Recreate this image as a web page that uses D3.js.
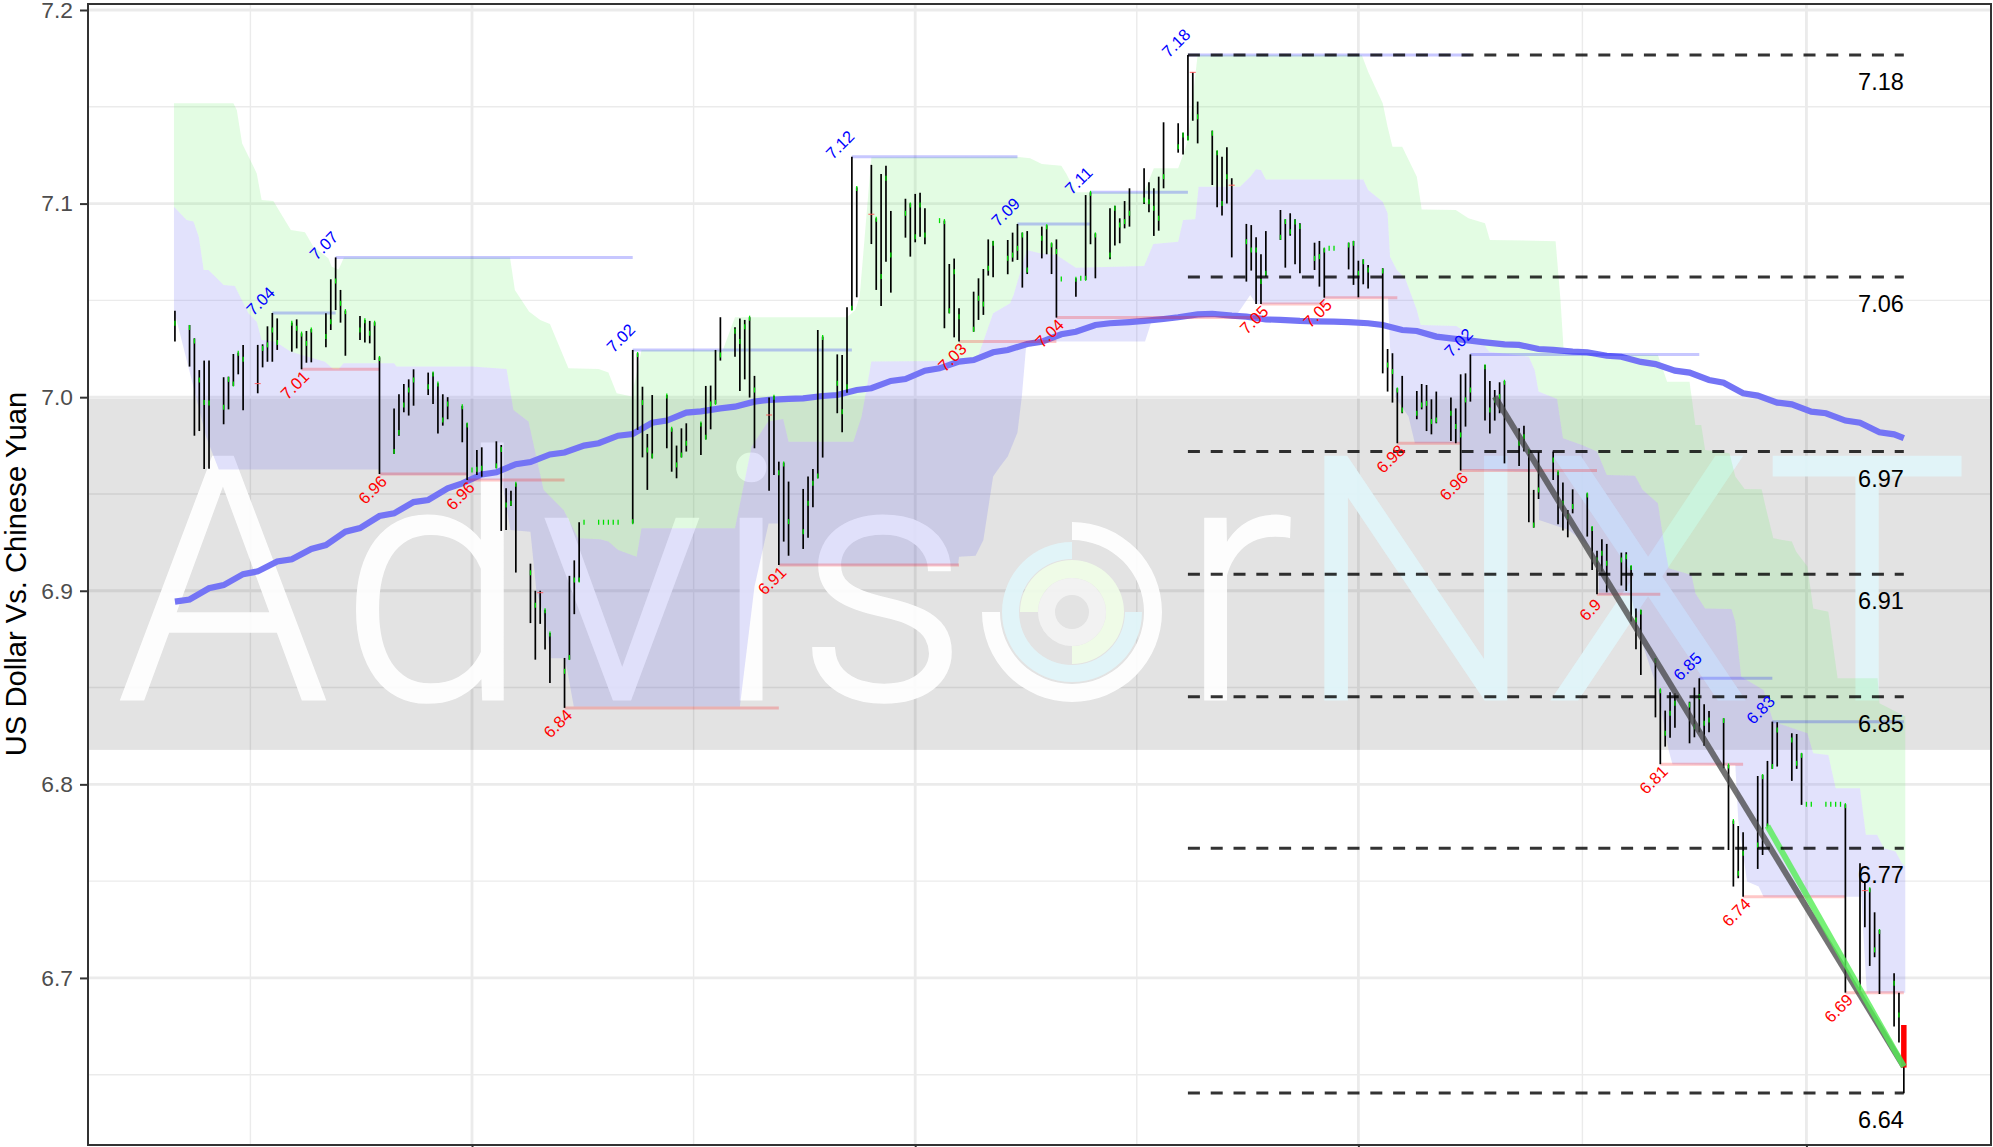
<!DOCTYPE html>
<html>
<head>
<meta charset="utf-8">
<title>US Dollar Vs. Chinese Yuan</title>
<script src="https://d3js.org/d3.v7.min.js"></script>
<style>
  html, body { margin: 0; padding: 0; background: #fff; overflow: hidden; }
  svg { display: block; font-family: "Liberation Sans", Arial, sans-serif; }
</style>
</head>
<body>
<div class="chart"></div>
<script>
//all x values are day numbers, 0 = 1 Jan 2020
var firstBarDay = -61;

//one line per trading week, first entry is the lone Friday 1 Nov 2019
var barHigh = [7.0447,
  7.0373, 7.0304, 7.014, 7.0189, 7.019,
  7.0103, 7.0106, 7.0223, 7.023, 7.027,
  7.027, 7.0273, 7.0366, 7.0435, 7.0407,
  7.0385, 7.0402, 7.033, 7.0342, 7.0352,
  7.0433, 7.0609, 7.0722, 7.0554, 7.0447,
  7.0419, 7.0399, 7.0394, 7.0387, 7.0206,
  6.9941, 7.0015, 7.0068, 7.0092, 7.0144,
  7.0127, 7.0127, 7.0072, 7.0015, 7.0,
  6.9955, 6.9865, 6.9624, 6.9727, 6.9741,
  6.9772, 6.9753, 6.9529, 6.9517, 6.9555,
  6.914, 6.9, 6.9, 6.8902, 6.8782,
  6.8653, 6.9077, 6.9157, 6.9354, 6.9354,
  6.9354, 6.9354, 6.9354, 6.9354, 6.9354,
  7.0244, 7.0227, 7.0054, 6.981, 7.0011,
  7.0011, 6.9839, 6.975, 6.9839, 6.9865,
  6.9868, 7.0058, 7.006, 7.0244, 7.0413,
  7.0361, 7.0407, 7.0399, 7.0413, 7.011,
  6.9998, 7.0006, 6.9667, 6.9662, 6.9564,
  6.9526, 6.959, 6.9629, 7.0347, 7.0313,
  7.0221, 7.0218, 7.0464, 7.1242, 7.1084,
  7.12, 7.0924, 7.1153, 7.1196, 7.0962,
  7.1025, 7.1001, 7.105, 7.1056, 7.0976,
  7.0912, 7.0912, 7.0688, 7.0716, 7.0459,
  7.0545, 7.0614, 7.0662, 7.0815, 7.0807,
  7.0812, 7.085, 7.0895, 7.085, 7.0858,
  7.0881, 7.0888, 7.0795, 7.0815, 7.0611,
  7.0614, 7.0614, 7.1044, 7.1058, 7.0846,
  7.0976, 7.0989, 7.0924, 7.1013, 7.1079,
  7.1182, 7.111, 7.1079, 7.1139, 7.142,
  7.1415, 7.1366, 7.1768, 7.1678, 7.1527,
  7.1377, 7.1273, 7.1242, 7.1291, 7.1131,
  7.0895, 7.0889, 7.0826, 7.0738, 7.0858,
  7.0967, 7.0919, 7.095, 7.0919, 7.0898,
  7.0798, 7.0807, 7.0769, 7.0769, 7.0769,
  7.0798, 7.0807, 7.0705, 7.0712, 7.0683,
  7.0666, 7.0249, 7.0227, 7.0046, 7.011,
  7.0032, 7.0068, 7.0063, 6.9989, 7.0029,
  6.9998, 6.9942, 7.0118, 7.0123, 7.0221,
  7.0166, 7.0084, 7.0037, 7.0077, 7.0084,
  6.9839, 6.9853, 6.9727, 6.9521, 6.9719,
  6.9719, 6.9615, 6.9559, 6.9417, 6.9524,
  6.9503, 6.9331, 6.9207, 6.9266, 6.9242,
  6.9197, 6.9199, 6.9128, 6.8909, 6.8901,
  6.8651, 6.8491, 6.8381, 6.8476, 6.847,
  6.8427, 6.85, 6.8548, 6.8414, 6.8379,
  6.8341, 6.81, 6.7813, 6.7785, 6.7752,
  6.8043, 6.8049, 6.8121, 6.8324, 6.8321,
  6.8264, 6.826, 6.816, 6.7897, 6.7897,
  6.7897, 6.7897, 6.7897, 6.7897, 6.7897,
  6.7592, 6.7498, 6.7463, 6.7339, 6.7248,
  6.7024, 6.6924, 6.6757];

var barLow = [7.0287,
  7.0158, 6.9801, 6.9825, 6.9629, 6.963,
  6.986, 6.9937, 7.0058, 7.0118, 6.9932,
  7.002, 7.0154, 7.0183, 7.0183, 7.0244,
  7.0235, 7.0252, 7.0144, 7.0178, 7.018,
  7.0258, 7.0347, 7.045, 7.0385, 7.0214,
  7.0295, 7.0282, 7.0278, 7.0192, 6.9603,
  6.9707, 6.9801, 6.9922, 6.9905, 6.9956,
  7.0011, 6.9965, 6.9813, 6.9853, 6.9886,
  6.9767, 6.9572, 6.9624, 6.9598, 6.9589,
  6.9633, 6.9309, 6.9314, 6.9438, 6.9094,
  6.8833, 6.8644, 6.8829, 6.8696, 6.8524,
  6.8395, 6.8644, 6.8879, 6.9047, 6.9354,
  6.9354, 6.9354, 6.9354, 6.9354, 6.9354,
  6.9348, 6.9831, 6.9689, 6.9521, 6.9684,
  6.9736, 6.9615, 6.9581, 6.9689, 6.9719,
  6.9701, 6.9782, 6.9834, 6.9965, 7.0189,
  7.0209, 7.0032, 7.0092, 6.9998, 6.9736,
  6.9516, 6.9598, 6.9133, 6.9254, 6.9181,
  6.9216, 6.9274, 6.9431, 6.9581, 6.9688,
  6.9917, 6.9819, 7.0023, 7.045, 7.0516,
  7.0791, 7.0554, 7.0471, 7.07, 7.054,
  7.0824, 7.0726, 7.08, 7.0829, 7.079,
  7.0912, 7.0356, 7.0433, 7.0309, 7.0287,
  7.0338, 7.0399, 7.0425, 7.0628, 7.0619,
  7.0635, 7.07, 7.0709, 7.0566, 7.0636,
  7.0717, 7.0738, 7.0636, 7.0411, 7.0611,
  7.0519, 7.0614, 7.0605, 7.079, 7.0614,
  7.0712, 7.0783, 7.0795, 7.0872, 7.0881,
  7.0998, 7.0955, 7.0833, 7.086, 7.1079,
  7.1263, 7.1254, 7.1329, 7.1428, 7.1311,
  7.1096, 7.0981, 7.0938, 7.1001, 7.0722,
  7.0597, 7.0654, 7.0481, 7.0481, 7.0623,
  7.0812, 7.0669, 7.0834, 7.0686, 7.064,
  7.0657, 7.0571, 7.0514, 7.0769, 7.0769,
  7.066, 7.058, 7.0516, 7.0583, 7.0562,
  7.0123, 7.0029, 6.9972, 6.9762, 6.9917,
  6.9886, 6.9937, 6.9825, 6.9808, 6.9865,
  6.9774, 6.9762, 6.9621, 6.9848, 6.9977,
  6.9879, 6.9813, 6.9879, 6.9917, 6.9658,
  6.9645, 6.9719, 6.9354, 6.9326, 6.9474,
  6.9572, 6.9343, 6.9311, 6.9276, 6.94,
  6.928, 6.9107, 6.8982, 6.9099, 6.8992,
  6.9027, 6.8999, 6.8841, 6.8698, 6.8565,
  6.8346, 6.8104, 6.8195, 6.8241, 6.8293,
  6.8212, 6.8243, 6.8269, 6.82, 6.8269,
  6.8083, 6.7661, 6.7472, 6.7515, 6.742,
  6.7563, 6.7635, 6.7782, 6.808, 6.8092,
  6.8018, 6.808, 6.7894, 6.7897, 6.7897,
  6.7897, 6.7897, 6.7897, 6.7897, 6.6924,
  6.6938, 6.7262, 6.7062, 6.7107, 6.6917,
  6.6749, 6.6666, 6.6404];

var barClose = [7.0382,
  7.036, 7.029, 7.0089, 6.9972, 6.997,
  6.9948, 7.0092, 7.0068, 7.0227, 7.0196,
  7.007, 7.0252, 7.027, 7.0347, 7.0282,
  7.0382, 7.0356, 7.0326, 7.0278, 7.0347,
  7.0313, 7.039, 7.06, 7.0485, 7.0442,
  7.0347, 7.0395, 7.033, 7.0382, 7.02,
  6.972, 6.9817, 6.996, 7.0037, 7.0089,
  7.0054, 7.012, 7.0068, 6.9882, 6.9965,
  6.9951, 6.9856, 6.9624, 6.9628, 6.9633,
  6.9645, 6.973, 6.9443, 6.9452, 6.955,
  6.9093, 6.8925, 6.899, 6.8897, 6.8777,
  6.8584, 6.8655, 6.9056, 6.9056, 6.9354,
  6.9354, 6.9354, 6.9354, 6.9354, 6.9354,
  6.9356, 7.022, 6.9972, 6.9727, 6.9696,
  7.0006, 6.9834, 6.965, 6.9701, 6.9762,
  6.9862, 6.9793, 6.9965, 6.9973, 7.0218,
  7.034, 7.0287, 7.0364, 7.0408, 7.0037,
  6.9908, 7.0, 6.961, 6.9655, 6.9357,
  6.9305, 6.9452, 6.9555, 6.9593, 7.0308,
  7.0072, 6.9925, 7.0054, 7.0459, 7.1078,
  7.0945, 7.0919, 7.0623, 7.1131, 7.0734,
  7.095, 7.0993, 7.0829, 7.0993, 7.0838,
  7.0912, 7.0907, 7.0447, 7.0648, 7.0416,
  7.0351, 7.0511, 7.0481, 7.0666, 7.0795,
  7.0717, 7.0734, 7.0769, 7.0838, 7.0657,
  7.0821, 7.088, 7.0787, 7.0752, 7.0611,
  7.0609, 7.0614, 7.0614, 7.1053, 7.0838,
  7.0734, 7.0976, 7.0889, 7.0907, 7.095,
  7.1019, 7.101, 7.0976, 7.0924, 7.1139,
  7.1294, 7.1354, 7.1337, 7.1678, 7.1449,
  7.1363, 7.1263, 7.1001, 7.1139, 7.1095,
  7.0803, 7.076, 7.076, 7.0597, 7.064,
  7.0826, 7.0907, 7.0855, 7.0905, 7.0881,
  7.0717, 7.0726, 7.076, 7.0769, 7.0769,
  7.0786, 7.0795, 7.064, 7.07, 7.0657,
  7.0652, 7.0166, 7.0132, 7.0037, 6.9934,
  6.9917, 6.996, 6.9968, 6.9874, 6.9882,
  6.9917, 6.9848, 6.9805, 6.9986, 7.0037,
  7.0157, 6.9934, 6.9986, 7.0003, 7.0077,
  6.9762, 6.9796, 6.972, 6.934, 6.9521,
  6.9676, 6.961, 6.9452, 6.9383, 6.9435,
  6.9495, 6.9322, 6.9159, 6.9194, 6.9142,
  6.9159, 6.9176, 6.912, 6.8849, 6.889,
  6.864, 6.8484, 6.8264, 6.8367, 6.8419,
  6.841, 6.8298, 6.8453, 6.8315, 6.8333,
  6.833, 6.8095, 6.7808, 6.7541, 6.7644,
  6.7687, 6.804, 6.7785, 6.8092, 6.8281,
  6.8229, 6.8109, 6.815, 6.7897, 6.7897,
  6.7897, 6.7897, 6.7897, 6.7897, 6.789,
  6.695, 6.7451, 6.7455, 6.7145, 6.724,
  6.6972, 6.6809, 6.6537];

//bars whose close tick is a thin red dash instead of a green one
var redTickDays = [-44, 14, 61, 82, 148, 156, 286];

//long moving average
var maDays = [-61, -58, -54, -51, -47, -44, -40, -37, -33, -30, -26, -23, -19, -16, -12, -9, -5, -2,
  2, 5, 9, 12, 16, 19, 23, 26, 30, 33, 37, 40, 44, 47, 51, 54, 58, 61, 65, 68, 72, 75, 79, 82, 86, 89,
  93, 96, 100, 103, 107, 110, 114, 117, 121, 124, 128, 131, 135, 138, 142, 145, 149, 152, 156, 159,
  163, 166, 170, 173, 177, 180, 184, 187, 191, 194, 198, 201, 205, 208, 212, 215, 219, 222, 226, 229,
  233, 236, 240, 243, 247, 250, 254, 257, 261, 264, 268, 271, 275, 278, 282, 285, 289, 292, 294];
var maValues = [6.8944, 6.8955, 6.9013, 6.9029, 6.9086, 6.91, 6.9151, 6.9163, 6.9216, 6.9236, 6.9305, 6.9324, 6.9386, 6.94, 6.9458, 6.9469, 6.9529, 6.9555,
  6.9601, 6.9612, 6.9654, 6.9665, 6.9704, 6.9714, 6.975, 6.9762, 6.9801, 6.981, 6.9868, 6.9879, 6.992, 6.9927, 6.9942, 6.9951, 6.9977, 6.9986, 6.9991, 6.9994, 7.0006, 7.0011, 7.0037, 7.0046, 7.0084, 7.0094,
  7.0137, 7.0149, 7.0184, 7.0192, 7.0232, 7.0244, 7.0275, 7.0287, 7.0325, 7.0338, 7.0373, 7.0382, 7.0388, 7.0394, 7.0404, 7.0413, 7.0428, 7.043, 7.0421, 7.0416,
  7.0402, 7.0399, 7.0394, 7.0392, 7.039, 7.0388, 7.0382, 7.0373, 7.0347, 7.0342, 7.0313, 7.0304, 7.0292, 7.0283, 7.0273, 7.027, 7.0249, 7.0244, 7.0235, 7.0232,
  7.0214, 7.0209, 7.0182, 7.0171, 7.0137, 7.0127, 7.0089, 7.0075, 7.002, 7.0008, 6.9972, 6.9963, 6.9925, 6.9917, 6.9879, 6.9868, 6.9819, 6.9808, 6.9788];

//channel edges: green fills top to mid, lavender fills mid to low
var topDays = [-61.2, -49, -48.3, -47.2, -44.2, -43.2, -40.8, -37.2, -34.3, -32.6, -29.5, -28.8, -27.4, -26.3, 7.8, 8.8, 11.7, 14, 16, 19.8, 26, 28, 29.7, 32.8, 34.8, 51.5, 54, 77, 78.7, 79.6, 82, 111.8, 114.6, 117, 121, 122, 124, 138, 140, 145, 146, 147, 149, 182.7, 184, 187, 188, 189, 191, 194, 195, 202, 204.6, 208, 209, 222.5, 223.5, 224.2, 243.5, 245.4, 250, 251.2, 252.4, 253.2, 258.2, 259.4, 261.3, 264.8, 265.6, 267.2, 271, 271.9, 274.2, 275.4, 278.5, 280.4, 288.6, 289, 294.3];
var topValues = [7.1518, 7.1518, 7.1483, 7.1311, 7.1156, 7.1019, 7.1013, 7.0864, 7.0852, 7.0778, 7.0717, 7.0674, 7.066, 7.0722, 7.0722, 7.0554, 7.0442, 7.0399, 7.0378, 7.0149, 7.0146, 7.0128, 7.002, 7.0003, 7.0244, 7.0244, 7.0413, 7.0413, 7.045, 7.0519, 7.1239, 7.1242, 7.1234, 7.1205, 7.1196, 7.1156, 7.1058, 7.1058, 7.1182, 7.1182, 7.1251, 7.1329, 7.1768, 7.1768, 7.1681, 7.1518, 7.1397, 7.1294, 7.1294, 7.1139, 7.097, 7.0967, 7.0924, 7.0898, 7.0812, 7.0806, 7.0502, 7.0223, 7.0218, 7.008, 7.008, 6.9856, 6.9856, 6.9727, 6.971, 6.959, 6.9526, 6.9524, 6.9435, 6.9271, 6.9254, 6.9202, 6.9125, 6.8909, 6.8892, 6.8548, 6.8548, 6.8419, 6.835];

var midDays = [-61.2, -58.6, -57.2, -56.1, -55.1, -54.1, -51, -48.7, -47.6, -45.9, -44.2, -43.2, -40.4, -37.2, -30.2, -28.5, -27.4, -26.4, -16, -15.5, 0, 7.1, 8.5, 11.6, 14.7, 18.8, 21.8, 26.3, 28, 30, 33.8, 34.8, 54, 57.4, 60.8, 63.9, 65, 78.3, 80, 82, 103.6, 107, 110.5, 111.2, 113.9, 116.6, 120, 124, 138, 139.9, 145, 146, 148.5, 149.2, 157.7, 159.8, 161, 162, 163, 183, 184, 187, 188, 188.5, 189.9, 191.6, 194, 194.8, 202.1, 207.2, 208.9, 217, 218.2, 219, 222.8, 224, 227.9, 231, 233, 238.8, 240.4, 243.5, 244.6, 245.7, 250.4, 251.2, 253.2, 258.6, 259.4, 260.6, 265.2, 267.2, 274.2, 275.4, 278.5, 280, 285, 286.2, 288.5, 289.9, 292.3, 293.6, 294.3];
var midValues = [7.0984, 7.0915, 7.0907, 7.0829, 7.0657, 7.0657, 7.058, 7.0574, 7.0519, 7.0433, 7.039, 7.0295, 7.0287, 7.0235, 7.0183, 7.0146, 7.0144, 7.0175, 7.0175, 7.0158, 7.0158, 7.0146, 6.9934, 6.9874, 6.9521, 6.9417, 6.9271, 6.9266, 6.9254, 6.9211, 6.9176, 6.9323, 6.9323, 6.9744, 6.9874, 6.9887, 6.977, 6.977, 6.99, 7.0184, 7.0188, 7.0433, 7.0485, 7.0528, 7.076, 7.0743, 7.0735, 7.0669, 7.0678, 7.0791, 7.0803, 7.0915, 7.0919, 7.1087, 7.1087, 7.1139, 7.1177, 7.1174, 7.1125, 7.1125, 7.107, 7.101, 7.095, 7.0726, 7.0657, 7.0614, 7.045, 7.0373, 7.0368, 7.0287, 7.0235, 7.0209, 7.014, 7.0029, 6.9991, 6.9788, 6.9753, 6.9719, 6.9598, 6.9594, 6.9521, 6.9452, 6.9271, 6.9116, 6.9082, 6.8987, 6.8909, 6.8906, 6.8841, 6.8556, 6.8488, 6.8324, 6.8264, 6.816, 6.8151, 6.798, 6.798, 6.7739, 6.7739, 6.767, 6.7653, 6.7592, 6.7575];

var lowDays = [-61.2, -54.6, -52, -19.2, -18.7, -1, 0.2, 6.1, 7.9, 12, 13.2, 15, 16.2, 19.1, 20.9, 55, 58, 60.9, 63, 63.1, 99.8, 100, 103.4, 105, 107, 108.4, 110, 112, 112.9, 113.8, 114, 138.2, 139.5, 157, 159.8, 161, 175, 175.1, 188.1, 188.5, 189.5, 192.3, 193.6, 203, 203.2, 219, 219.1, 223.2, 225.2, 229.4, 231.3, 231.4, 238, 239.6, 243.5, 245.7, 246.5, 259.4, 260, 261.8, 264.2, 265.2, 285.3, 285.7, 286.4, 294.3];
var lowValues = [7.045, 6.9796, 6.9627, 6.9627, 6.9598, 6.9598, 6.9572, 6.9572, 6.9314, 6.9305, 6.9004, 6.8849, 6.8651, 6.8651, 6.8402, 6.8402, 6.9021, 6.9348, 6.9348, 6.913, 6.913, 6.9176, 6.9181, 6.9262, 6.959, 6.9641, 6.9693, 6.9817, 7.0003, 7.027, 7.0287, 7.0287, 7.039, 7.0425, 7.0528, 7.0481, 7.0481, 7.0511, 7.0511, 7.0261, 7.0003, 6.99, 6.9762, 6.9762, 6.9624, 6.9615, 6.9366, 6.9331, 6.9314, 6.9228, 6.9125, 6.8978, 6.8978, 6.878, 6.8488, 6.8178, 6.8104, 6.81, 6.7816, 6.7498, 6.7472, 6.742, 6.742, 6.7231, 6.6924, 6.6924];

//swing highs
var highDays = [-41, -28, 33, 78, 112, 127, 147, 205, 252, 267];
var highEnds = [-28, 33, 78, 112, 127, 147, 205, 252, 267, 294];
var highValues = [7.0435, 7.0722, 7.0244, 7.1242, 7.0895, 7.1058, 7.1768, 7.0221, 6.8548, 6.8324];
var highLabels = ["7.04", "7.07", "7.02", "7.12", "7.09", "7.11", "7.18", "7.02", "6.85", "6.83"];

//swing lows
var lowStart = [-35, -19, -1, 19, 63, 100, 120, 162, 175, 190, 203, 231, 244, 261, 282];
var lowEnds = [-19, -1, 19, 63, 100, 120, 162, 175, 190, 203, 231, 244, 261, 282, 294];
var swingLowValues = [7.0144, 6.9603, 6.9572, 6.8395, 6.9133, 7.0287, 7.0411, 7.0481, 7.0514, 6.9762, 6.9621, 6.8982, 6.8104, 6.742, 6.6924];
var lowLabels = ["7.01", "6.96", "6.96", "6.84", "6.91", "7.03", "7.04", "7.05", "7.05", "6.98", "6.96", "6.9", "6.81", "6.74", "6.69"];

//dashed retracement levels
var levelValues = [7.1768, 7.0621, 6.9719, 6.9085, 6.8453, 6.767, 6.6405];
var levelLabels = ["7.18", "7.06", "6.97", "6.91", "6.85", "6.77", "6.64"];
var levelStart = 147;
var levelEnd = 294;

//trend lines and the gray zone
var greyTrendDays = [210, 294];
var greyTrendValues = [7.0003, 6.6542];
var greenTrendDays = [266, 294];
var greenTrendValues = [6.7785, 6.6542];
var zoneValues = [6.8178, 6.9992];

//axis ticks
var yTicks = [7.2, 7.1, 7.0, 6.9, 6.8, 6.7];
var yMinor = [7.15, 7.05, 6.95, 6.85, 6.75, 6.65];
var xTicks = [0, 91, 182, 274];
var xMinor = [-45.5, 45.5, 136.5, 228];

/********************************************/
var svgWidth = 1993;
var svgHeight = 1147;
var margin = { top: 4, right: 2, bottom: 2, left: 88 };

var svg = d3.select(".chart")
  .append("svg")
  .attr("width", svgWidth)
  .attr("height", svgHeight);

var xScale = d3.scaleLinear()
  .domain([-78.85, 311.9])
  .range([margin.left, svgWidth - margin.right]);

var yScale = d3.scaleLinear()
  .domain([6.6137, 7.2031])
  .range([svgHeight - margin.bottom, margin.top]);

//trading days skip the weekends
var barDays = [];
for (var d = firstBarDay; barDays.length < barHigh.length; d++) {
  var sinceFriday = (d - firstBarDay) % 7;
  if (sinceFriday !== 1 && sinceFriday !== 2) barDays.push(d);
}

var bars = barDays.map(function (day, i) {
  return { day: day, high: barHigh[i], low: barLow[i], close: barClose[i] };
});

var swingHighs = highDays.map(function (day, i) {
  return { day: day, end: highEnds[i], value: highValues[i], label: highLabels[i] };
});
var swingLows = lowStart.map(function (day, i) {
  return { day: day, end: lowEnds[i], value: swingLowValues[i], label: lowLabels[i] };
});

var pointLine = d3.line()
  .x(d => xScale(d[0]))
  .y(d => yScale(d[1]));

drawGrid();
drawZone();
drawWatermark();
drawChannel();
drawLine(d3.zip(maDays, maValues), "#7474f5", 6.2, 1, "ma-line");
drawSwingLines(swingHighs, "#0000ff");
drawSwingLines(swingLows, "#ff0000");
drawBars();
drawLine(d3.zip(greyTrendDays, greyTrendValues), "#444444", 6, 0.75, "trend-grey");
drawLine(d3.zip(greenTrendDays, greenTrendValues), "#55ee55", 6, 0.8, "trend-green");
drawLevels();
drawSwingLabels(swingHighs, "#0000ff", -12, -12);
drawSwingLabels(swingLows, "#ff0000", -7, 15.5);
drawAxes();

/********************************************/
function drawGrid() {
  var grid = svg.append("g").attr("class", "grid");

  function hLines(values, width) {
    grid.selectAll(null).data(values).enter().append("line")
      .attr("x1", margin.left).attr("x2", svgWidth - margin.right)
      .attr("y1", d => yScale(d)).attr("y2", d => yScale(d))
      .attr("stroke", "#ebebeb").attr("stroke-width", width);
  }
  function vLines(values, width) {
    grid.selectAll(null).data(values).enter().append("line")
      .attr("y1", margin.top).attr("y2", svgHeight - margin.bottom)
      .attr("x1", d => xScale(d)).attr("x2", d => xScale(d))
      .attr("stroke", "#ebebeb").attr("stroke-width", width);
  }
  hLines(yMinor, 1.4);
  vLines(xMinor, 1.4);
  hLines(yTicks, 2.8);
  vLines(xTicks, 2.8);
}

/********************************************/
function drawZone() {
  svg.append("rect")
    .attr("x", margin.left)
    .attr("width", svgWidth - margin.left - margin.right)
    .attr("y", yScale(zoneValues[1]))
    .attr("height", yScale(zoneValues[0]) - yScale(zoneValues[1]))
    .attr("fill", "#000")
    .attr("opacity", 0.11);
}

/********************************************/
//logo sits under the channel, every letter placed on its own
function drawWatermark() {
  var mark = svg.append("g").attr("class", "watermark").attr("opacity", 0.93);

  mark.append("text")
    .attr("x", "223 434 622 751 883 1237")
    .attr("y", 699)
    .attr("text-anchor", "middle")
    .attr("font-family", "Roboto")
    .attr("font-weight", 300)
    .attr("font-size", 340)
    .attr("fill", "#fff")
    .attr("stroke", "#fff")
    .attr("stroke-width", 3)
    .text("Advisr");

  mark.append("text")
    .attr("x", "1416 1648 1867")
    .attr("y", 699)
    .attr("text-anchor", "middle")
    .attr("font-family", "Roboto")
    .attr("font-weight", 300)
    .attr("font-size", 340)
    .attr("fill", "#e1f6fa")
    .attr("stroke", "#e1f6fa")
    .attr("stroke-width", 3)
    .text("NXT");

  //target icon standing in for the o
  var arc = d3.arc();
  var rings = [
    { inner: 72, outer: 90, from: 0, to: 270, color: "#fff" },
    { inner: 53, outer: 70, from: 90, to: 360, color: "#e1f6fa" },
    { inner: 34, outer: 52, from: -90, to: 180, color: "#f0fde8" },
    { inner: 17, outer: 34, from: 0, to: 360, color: "#f4f4f4" }
  ];
  mark.append("g")
    .attr("transform", "translate(1072,612)")
    .selectAll("path")
    .data(rings)
    .enter()
    .append("path")
    .attr("fill", d => d.color)
    .attr("d", d => arc({
      innerRadius: d.inner,
      outerRadius: d.outer,
      startAngle: d.from * Math.PI / 180,
      endAngle: d.to * Math.PI / 180
    }));
}

/********************************************/
function drawChannel() {
  var top = d3.zip(topDays, topValues);
  var mid = d3.zip(midDays, midValues);
  var low = d3.zip(lowDays, lowValues);

  svg.append("path")
    .attr("class", "band-green")
    .attr("d", pointLine(top.concat(mid.slice().reverse())) + "Z")
    .attr("fill", "#71f071")
    .attr("opacity", 0.2);

  svg.append("path")
    .attr("class", "band-lavender")
    .attr("d", pointLine(mid.concat(low.slice().reverse())) + "Z")
    .attr("fill", "#6e6ef0")
    .attr("opacity", 0.2);
}

/********************************************/
function drawLine(points, color, width, opacity, name) {
  svg.append("path")
    .attr("class", name)
    .attr("d", pointLine(points))
    .attr("fill", "none")
    .attr("stroke", color)
    .attr("stroke-width", width)
    .attr("stroke-opacity", opacity);
}

/********************************************/
function drawSwingLines(data, color) {
  svg.append("g").selectAll("line").data(data).enter().append("line")
    .attr("x1", d => xScale(d.day)).attr("x2", d => xScale(d.end))
    .attr("y1", d => yScale(d.value)).attr("y2", d => yScale(d.value))
    .attr("stroke", color).attr("stroke-width", 3).attr("stroke-opacity", 0.22);
}

function drawSwingLabels(data, color, dx, dy) {
  svg.append("g").selectAll("text").data(data).enter().append("text")
    .attr("transform", d => `translate(${xScale(d.day) + dx},${yScale(d.value) + dy}) rotate(-45)`)
    .attr("text-anchor", "middle")
    .attr("dominant-baseline", "central")
    .attr("font-size", 16.5)
    .attr("fill", color)
    .text(d => d.label);
}

/********************************************/
function drawBars() {
  var group = svg.append("g").attr("class", "bars");

  //flat holiday days have no range, only the close tick shows
  group.selectAll("line.bar")
    .data(bars.filter(d => d.high > d.low))
    .enter()
    .append("line")
    .attr("class", "bar")
    .attr("x1", d => xScale(d.day)).attr("x2", d => xScale(d.day))
    .attr("y1", d => yScale(d.high)).attr("y2", d => yScale(d.low))
    .attr("stroke", "#000")
    .attr("stroke-width", 1.7);

  group.selectAll("line.close-up")
    .data(bars.filter(d => redTickDays.indexOf(d.day) < 0 && d.day !== 294))
    .enter()
    .append("line")
    .attr("class", "close-up")
    .attr("x1", d => xScale(d.day)).attr("x2", d => xScale(d.day))
    .attr("y1", d => yScale(d.close) - 2.5).attr("y2", d => yScale(d.close) + 2.5)
    .attr("stroke", "#00e000")
    .attr("stroke-width", 1.3);

  group.selectAll("line.close-down")
    .data(bars.filter(d => redTickDays.indexOf(d.day) >= 0))
    .enter()
    .append("line")
    .attr("class", "close-down")
    .attr("x1", d => xScale(d.day) - 3).attr("x2", d => xScale(d.day) + 3)
    .attr("y1", d => yScale(d.close)).attr("y2", d => yScale(d.close))
    .attr("stroke", "#ff6060")
    .attr("stroke-width", 1);

  //the last day is the red body, its high down to its close
  var last = bars[bars.length - 1];
  group.append("line")
    .attr("x1", xScale(last.day)).attr("x2", xScale(last.day))
    .attr("y1", yScale(last.high)).attr("y2", yScale(last.close))
    .attr("stroke", "#ff0000")
    .attr("stroke-width", 5.5);
}

/********************************************/
function drawLevels() {
  var levels = levelValues.map(function (value, i) {
    return { value: value, label: levelLabels[i] };
  });

  svg.append("g").selectAll("line").data(levels).enter().append("line")
    .attr("x1", xScale(levelStart)).attr("x2", xScale(levelEnd))
    .attr("y1", d => yScale(d.value)).attr("y2", d => yScale(d.value))
    .attr("stroke", "#000")
    .attr("stroke-opacity", 0.8)
    .attr("stroke-width", 3)
    .attr("stroke-dasharray", "12 10.8");

  svg.append("g").selectAll("text").data(levels).enter().append("text")
    .attr("x", xScale(levelEnd))
    .attr("y", d => yScale(d.value) + 35)
    .attr("text-anchor", "end")
    .attr("font-size", 23.5)
    .attr("fill", "#000")
    .text(d => d.label);
}

/********************************************/
function drawAxes() {
  var yAxis = d3.axisLeft(yScale)
    .tickValues(yTicks)
    .tickFormat(d3.format(".1f"))
    .tickSize(8)
    .tickPadding(7);

  var xAxis = d3.axisBottom(xScale)
    .tickValues(xTicks)
    .tickFormat("")
    .tickSize(8);

  var gy = svg.append("g")
    .attr("class", "y-axis")
    .attr("transform", `translate(${margin.left}, 0)`)
    .call(yAxis);
  gy.select(".domain").remove();
  gy.selectAll("line").attr("stroke", "#333").attr("stroke-width", 2);
  gy.selectAll("text")
    .attr("fill", "#4d4d4d")
    .attr("font-size", 22.8)
    .attr("font-family", "Liberation Sans");

  var gx = svg.append("g")
    .attr("class", "x-axis")
    .attr("transform", `translate(0, ${svgHeight - margin.bottom})`)
    .call(xAxis);
  gx.select(".domain").remove();
  gx.selectAll("line").attr("stroke", "#333").attr("stroke-width", 2);

  svg.append("rect")
    .attr("class", "panel-border")
    .attr("x", margin.left)
    .attr("y", margin.top)
    .attr("width", svgWidth - margin.left - margin.right)
    .attr("height", svgHeight - margin.top - margin.bottom)
    .attr("fill", "none")
    .attr("stroke", "#333")
    .attr("stroke-width", 2);

  svg.append("text")
    .attr("transform", "translate(26, 574) rotate(-90)")
    .attr("text-anchor", "middle")
    .attr("font-size", 29.2)
    .attr("fill", "#000")
    .text("US Dollar Vs. Chinese Yuan");
}
</script>
</body>
</html>
